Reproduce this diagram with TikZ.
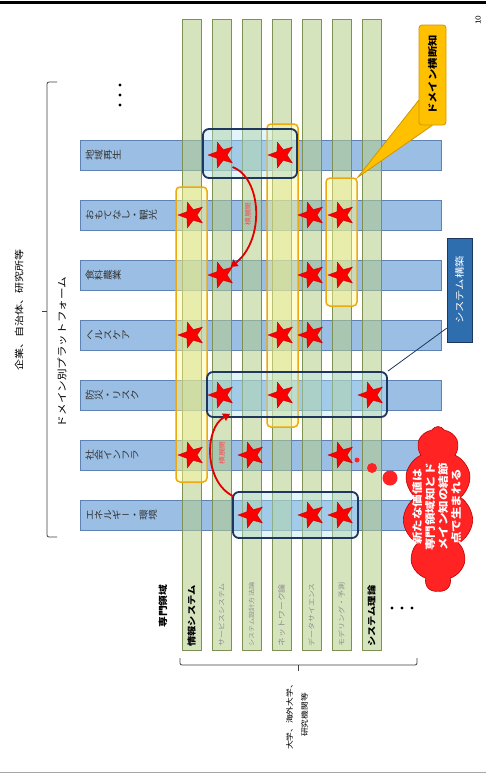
\documentclass[tikz,border=0pt]{standalone}
\usepackage{fontspec}
\setmainfont[FakeStretch=1.195]{Noto Sans CJK JP}
\usepackage{graphicx}
\usetikzlibrary{shapes.geometric,shapes.symbols,arrows.meta,calc}

\definecolor{bluefill}{RGB}{155,190,228}
\definecolor{blueedge}{RGB}{95,130,180}
\definecolor{greenfill}{RGB}{182,206,137}
\definecolor{greenedge}{RGB}{125,145,85}
\definecolor{ylwedge}{RGB}{235,170,20}
\definecolor{ylwfill}{RGB}{255,250,150}
\definecolor{navyedge}{RGB}{30,55,95}
\definecolor{cyanfill}{RGB}{175,228,242}
\definecolor{starred}{RGB}{250,0,0}
\definecolor{gold}{RGB}{255,192,0}
\definecolor{goldedge}{RGB}{205,150,0}
\definecolor{sysblue}{RGB}{46,110,175}
\definecolor{cloudred}{RGB}{255,35,35}
\definecolor{arrred}{RGB}{225,0,0}

\newcommand\vt[1]{\vtloop#1\relax}
\def\vtloop#1{\ifx\relax#1\else\vtchar{#1}\expandafter\vtloop\fi}
\def\vtchar#1{\ifx ー#1\hbox to 9pt{\hss\scalebox{0.75}[1]{ー}\hss}\else\hbox to 9pt{\hss\rotatebox[origin=c]{90}{\rule[-0.12em]{0pt}{1em}#1}\hss}\fi}

\tikzset{
  rowbar/.style={draw=blueedge, fill=bluefill, line width=0.8pt, minimum width=361pt, minimum height=30pt, inner sep=0, anchor=west},
  colbar/.style={draw=greenedge, fill=greenfill, fill opacity=0.55, line width=1pt, minimum width=19pt, minimum height=631pt, inner sep=0, anchor=north},
  ylwbox/.style={draw=ylwedge, fill=ylwfill, fill opacity=0.45, line width=1.5pt, rounded corners=4pt, inner sep=0},
  navybox/.style={draw=navyedge, fill=cyanfill, fill opacity=0.35, line width=1.8pt, rounded corners=6pt, inner sep=0},
  rstar/.style={star, star points=5, star point ratio=2.4, minimum size=27pt, inner sep=0, fill=starred, draw=red!75!black, line width=0.3pt, shape border rotate=90},
  rowlab/.style={anchor=west, inner sep=0, font=\fontsize{9}{9}\selectfont, text=black!80},
  barlab/.style={rotate=90, anchor=west, inner sep=0},
  rotlab/.style={rotate=90, inner sep=0},
  brk/.style={draw=black!75, line width=0.8pt},
  arr/.style={draw=arrred, line width=1.8pt, -{Triangle[length=7pt,width=8pt]}},
  arrlab/.style={rotate=90, inner sep=0, text=red!70, font=\fontsize{6.5}{7}\selectfont},
  bubble/.style={circle, fill=cloudred, inner sep=0},
  dot/.style={circle, fill=black, minimum size=3.2pt, inner sep=0},
  domshape/.style={rotate=90, minimum width=100pt, minimum height=27pt, inner sep=0}
}

\begin{document}
\begin{tikzpicture}[x=1pt,y=-1pt]
\useasboundingbox (0,0) rectangle (486,774);
\fill[white] (0,0) rectangle (486,774);

% slide frame lines
\draw[line width=3pt] (0,2.5) -- (486,2.5);
\draw[gray!70, line width=1pt] (0,772) -- (486,772);
\node[rotlab, font=\fontsize{7}{7}\selectfont] (pg) at (478,20) {10};

% domain rows (blue)
\node[rowbar] (r1) at (80,155) {};
\node[rowbar] (r2) at (80,215) {};
\node[rowbar] (r3) at (80,275) {};
\node[rowbar] (r4) at (80,335) {};
\node[rowbar] (r5) at (80,395) {};
\node[rowbar] (r6) at (80,455) {};
\node[rowbar] (r7) at (80,515) {};

% specialty columns (green)
\node[colbar] (c1) at (191.5,19) {};
\node[colbar] (c2) at (221.5,19) {};
\node[colbar] (c3) at (251.5,19) {};
\node[colbar] (c4) at (281.5,19) {};
\node[colbar] (c5) at (311.5,19) {};
\node[colbar] (c6) at (341.5,19) {};
\node[colbar] (c7) at (371.5,19) {};

% row labels
\node[rowlab] (l1) at (85,155) {\vt{地域再生}};
\node[rowlab] (l2) at (85,215) {\vt{おもてなし・観光}};
\node[rowlab] (l3) at (85,275) {\vt{食料農業}};
\node[rowlab] (l4) at (85,335) {\vt{ヘルスケア}};
\node[rowlab] (l5) at (85,395) {\vt{防災・リスク}};
\node[rowlab] (l6) at (85,455) {\vt{社会インフラ}};
\node[rowlab] (l7) at (85,515) {\vt{エネルギー・環境}};

% column labels
\node[barlab, font=\bfseries\fontsize{8.6}{9}\selectfont, text=black] (t1) at (191.5,647) {情報システム};
\node[barlab, font=\fontsize{6.7}{7}\selectfont, text=black!45] (t2) at (221.5,647) {サービスシステム};
\node[barlab, font=\fontsize{6}{7}\selectfont, text=black!45] (t3) at (251.5,647) {システム設計方法論};
\node[barlab, font=\fontsize{7.5}{8}\selectfont, text=black!45] (t4) at (281.5,647) {ネットワーク論};
\node[barlab, font=\fontsize{6.7}{7}\selectfont, text=black!45] (t5) at (311.5,647) {データサイエンス};
\node[barlab, font=\fontsize{6.7}{7}\selectfont, text=black!45] (t6) at (341.5,647) {モデリング・予測};
\node[barlab, font=\bfseries\fontsize{8.6}{9}\selectfont, text=black] (t7) at (371.5,647) {システム理論};

% highlight boxes
\node[ylwbox, minimum width=31pt, minimum height=295pt] (bA) at (191.5,334.5) {};
\node[ylwbox, minimum width=31pt, minimum height=303pt] (bB) at (282.5,275.5) {};
\node[ylwbox, minimum width=31pt, minimum height=128pt] (bC) at (341.5,242) {};
\node[navybox, minimum width=94pt, minimum height=49pt] (bD) at (250,153.5) {};
\node[navybox, minimum width=180pt, minimum height=45pt] (bE) at (297,394.5) {};
\node[navybox, minimum width=125pt, minimum height=46pt] (bF) at (295.5,515) {};

% stars
\node[rstar] (s12) at (221.5,155) {};
\node[rstar] (s14) at (281.5,155) {};
\node[rstar] (s21) at (191.5,215) {};
\node[rstar] (s25) at (311.5,215) {};
\node[rstar] (s26) at (341.5,215) {};
\node[rstar] (s32) at (221.5,275) {};
\node[rstar] (s35) at (311.5,275) {};
\node[rstar] (s36) at (341.5,275) {};
\node[rstar] (s41) at (191.5,335) {};
\node[rstar] (s44) at (281.5,335) {};
\node[rstar] (s45) at (311.5,335) {};
\node[rstar] (s52) at (221.5,395) {};
\node[rstar] (s54) at (281.5,395) {};
\node[rstar] (s57) at (371.5,395) {};
\node[rstar] (s61) at (191.5,455) {};
\node[rstar] (s63) at (251.5,455) {};
\node[rstar] (s66) at (341.5,455) {};
\node[rstar] (s73) at (251.5,515) {};
\node[rstar] (s75) at (311.5,515) {};
\node[rstar] (s76) at (341.5,515) {};

% curved arrows
\draw[arr] ($(s12)+(11,12)$) .. controls (262,178) and (265,240) .. ($(s32)+(9,-8)$);
\node[arrlab] (al1) at (248,214) {横展開};
\draw[arr] ($(bF.north west)+(1,5)$) .. controls (204,482) and (204,428) .. ($(bE.south west)+(24,-4)$);
\node[arrlab] (al2) at (222,453) {横展開};

% left labels and bracket
\node[rotlab, font=\fontsize{9.2}{10}\selectfont] (org) at (19,310) {企業、自治体、研究所等};
\node[rotlab, font=\fontsize{9.7}{10}\selectfont] (plat) at (62,352) {ドメイン別プラットフォーム};
\draw[brk, rounded corners=2pt] (57,82) -- (47,82) -- (47,537) -- (57,537);
\draw[brk] (47,311) -- (42,311);
\node[dot] (d1) at (120,85) {};
\node[dot] (d2) at (120,95) {};
\node[dot] (d3) at (120,105) {};

% bottom labels and bracket
\node[rotlab, font=\bfseries\fontsize{9}{9}\selectfont] (senmon) at (163,606) {専門領域};
\draw[brk, rounded corners=2pt] (180,658) -- (180,665) -- (417,665) -- (417,658);
\draw[brk] (298,665) -- (298,671);
\node[rotlab, align=center, font=\fontsize{7.3}{15}\selectfont] (univ) at (297,715) {大学、海外大学、\\研究機関等};
\node[dot] (d4) at (392,608) {};
\node[dot] (d5) at (402,608) {};
\node[dot] (d6) at (412,608) {};

% callout: domain-crossing knowledge
\node[domshape] (domg) at (432.5,75) {};
\fill[gold] ($(domg.north)!0.5!(domg.north west)$) -- (bC.north east) -- (domg.west) -- cycle;
\draw[goldedge, line width=0.8pt] ($(domg.north)!0.5!(domg.north west)$) -- (bC.north east) -- (domg.west);
\node[domshape, draw=goldedge, fill=gold, line width=0.8pt, rounded corners=3pt, font=\bfseries\fontsize{9.5}{10}\selectfont] (dom) at (432.5,75) {ドメイン横断知};

% callout: system building
\node[draw=navyedge, fill=sysblue, line width=0.8pt, rotate=90, minimum width=104pt, minimum height=25pt, inner sep=0, text=white, font=\fontsize{9.5}{10}\selectfont] (sys) at (459.5,290) {システム構築};
\draw[navyedge, line width=0.8pt] ($(sys.north)!0.73!(sys.north west)$) -- (bE.north east);

% cloud
\node[bubble, minimum size=5pt] (bub3) at (357,460) {};
\node[bubble, minimum size=10pt] (bub2) at (372,468) {};
\node[bubble, minimum size=15pt] (bub1) at (390,478) {};
\node[cloud, cloud puffs=11, cloud puff arc=120, cloud ignores aspect, minimum width=70pt, minimum height=165pt, fill=cloudred, draw=red!75!black, line width=0.6pt, inner sep=0] (cld) at (438,509) {};
\node[rotlab, align=center, text=white, font=\bfseries\fontsize{10.5}{13.3}\selectfont] (cldt) at (437,507) {新たな価値は\\専門領域知とド\\メイン知の結節\\点で生まれる};
\end{tikzpicture}
\end{document}
